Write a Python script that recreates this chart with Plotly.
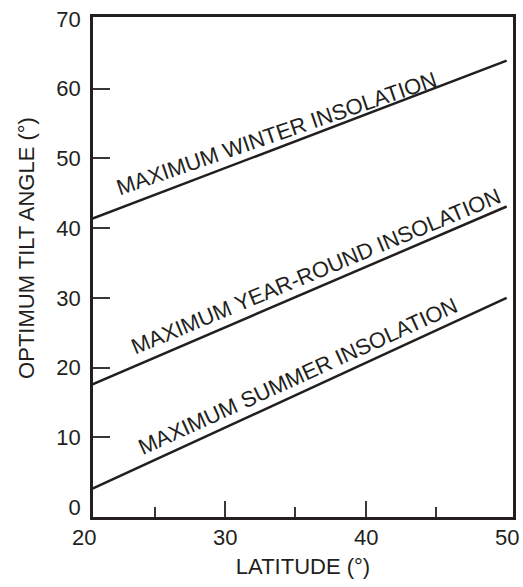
import plotly.graph_objects as go

# data
latitude = [20, 50]
winter_tilt = [40.9, 64.0]
year_round_tilt = [17.1, 43.1]
summer_tilt = [2.1, 30.0]

x_tick_labels = [20, 30, 40, 50]
x_major_ticks = [30, 40]
x_minor_ticks = [25, 35, 45]
y_tick_labels = [0, 10, 20, 30, 40, 50, 60, 70]
y_marked_ticks = [10, 20, 30, 40, 50, 60]

curve_names = [
    "MAXIMUM WINTER INSOLATION",
    "MAXIMUM YEAR-ROUND INSOLATION",
    "MAXIMUM SUMMER INSOLATION",
]
label_lat = [33.65, 36.45, 35.15]
label_tilt = [53.6, 33.8, 18.7]
label_angle = [-19, -22.6, -24.5]

INK = "#231f20"
TICK = "#3a3637"
FONT = "Liberation Sans, Arial, Helvetica, sans-serif"

X_RANGE = [20.63, 50.45]
Y_RANGE = [-1.41, 70.26]


def x_paper(v):
    return (v - X_RANGE[0]) / (X_RANGE[1] - X_RANGE[0])


fig = go.Figure()
for series in (winter_tilt, year_round_tilt, summer_tilt):
    fig.add_trace(go.Scatter(
        x=latitude, y=series, mode="lines",
        line=dict(color=INK, width=2.5),
        showlegend=False, hoverinfo="skip",
    ))

# curve labels, running along each line
for name, lat, tilt, angle in zip(curve_names, label_lat, label_tilt, label_angle):
    fig.add_annotation(
        x=lat, y=tilt, xref="x", yref="y", text=name, textangle=angle,
        showarrow=False, xanchor="center", yanchor="middle",
        font=dict(family=FONT, size=22, color=INK),
    )

# all x tick labels as text, since 20 and 50 sit outside the drawn frame
for v in x_tick_labels:
    fig.add_annotation(
        x=x_paper(v), y=0, xref="paper", yref="paper", text=str(v),
        showarrow=False, xanchor="center", yanchor="top", yshift=-6,
        font=dict(family=FONT, size=22, color=INK),
    )

fig.add_annotation(
    x=-0.158, y=0.5375, xref="paper", yref="paper", text="OPTIMUM TILT ANGLE (°)",
    textangle=-90, showarrow=False, xanchor="center", yanchor="middle",
    font=dict(family=FONT, size=22, color=INK),
)

fig.update_layout(
    width=523, height=587,
    margin=dict(l=93, r=7, t=14, b=70),
    paper_bgcolor="white", plot_bgcolor="white",
    font=dict(family=FONT, size=22, color=INK),
    xaxis=dict(
        range=X_RANGE, showgrid=False, zeroline=False,
        showline=True, linecolor=INK, linewidth=2.5, mirror=True,
        tickmode="array", tickvals=x_major_ticks, showticklabels=False,
        ticks="inside", ticklen=16, tickwidth=1.5, tickcolor=TICK,
        minor=dict(tickmode="array", tickvals=x_minor_ticks, ticks="inside",
                   ticklen=10, tickwidth=1.5, tickcolor=TICK),
        title=dict(text="LATITUDE (°)", standoff=40,
                   font=dict(family=FONT, size=22, color=INK)),
    ),
    yaxis=dict(
        range=Y_RANGE, showgrid=False, zeroline=False,
        showline=True, linecolor=INK, linewidth=2.5, mirror=True,
        tickmode="array", tickvals=y_tick_labels, ticks="",
        ticklabelstandoff=5,
        minor=dict(tickmode="array", tickvals=y_marked_ticks, ticks="inside",
                   ticklen=17, tickwidth=1.5, tickcolor=TICK),
    ),
)

fig.write_html(
    "out.html",
    config={"displayModeBar": False},
    post_script="document.body.style.margin='0';",
)
